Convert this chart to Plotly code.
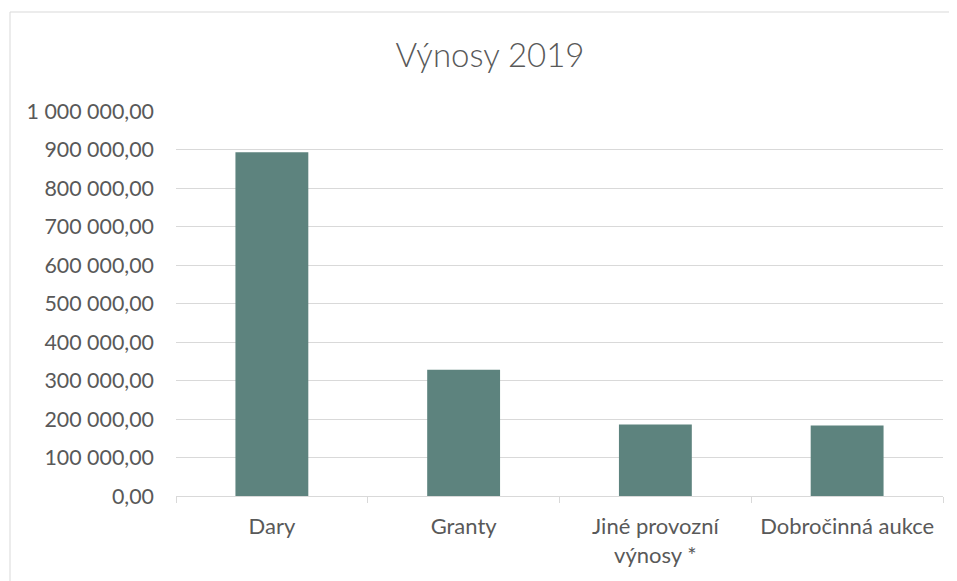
import plotly.graph_objects as go

categories = ["Dary", "Granty", "Jiné provozní<br>výnosy *", "Dobročinná aukce"]
values = [893000, 328000, 185500, 183000]
title_text = "Výnosy 2019"

# page body has an 8px margin, so the figure is drawn 8px in from the window edges
OFF = 8
W, H = 957 - OFF, 581 - OFF
L, R, T, B = 176 - OFF, 14, 111 - OFF, 85
pw, ph = W - L - R, H - T - B

fig = go.Figure(go.Bar(x=categories, y=values, marker=dict(color="#5d837e", line=dict(width=0)),
                       hoverinfo="x+y"))

font_family = "Lato, 'Open Sans', sans-serif"
fig.update_layout(
    width=W, height=H,
    margin=dict(l=L, r=R, t=T, b=B),
    paper_bgcolor="white", plot_bgcolor="white",
    separators=", ",
    bargap=0.62,
    showlegend=False,
    title=dict(text=title_text, x=(490 - OFF - L) / pw, xref="paper", xanchor="center",
               y=1 - (55 - OFF) / H, yanchor="middle",
               font=dict(family=font_family, size=33, color="#595959", weight=300)),
    font=dict(family=font_family, size=21, color="#595959"),
    xaxis=dict(showline=True, linecolor="#d9d9d9", linewidth=1,
               ticks="outside", tickson="boundaries", tickcolor="#d9d9d9", ticklen=6,
               showgrid=False, ticklabelstandoff=11,
               tickfont=dict(size=22, color="#595959")),
    yaxis=dict(range=[0, 1000000], dtick=100000, tickformat=",.2f",
               showgrid=True, gridcolor="#d9d9d9", gridwidth=1,
               zeroline=False, showline=False, ticks="",
               ticklabelstandoff=21,
               tickfont=dict(size=21.4, color="#595959")),
    shapes=[dict(type="rect", xref="paper", yref="paper",
                 x0=(2 - L) / pw, x1=(W + 5 - L) / pw,
                 y0=-B / ph - 0.1, y1=(H - 4 - B) / ph,
                 line=dict(color="#d9d9d9", width=1), fillcolor="rgba(0,0,0,0)", layer="below")],
)

fig.write_html("out.html")
